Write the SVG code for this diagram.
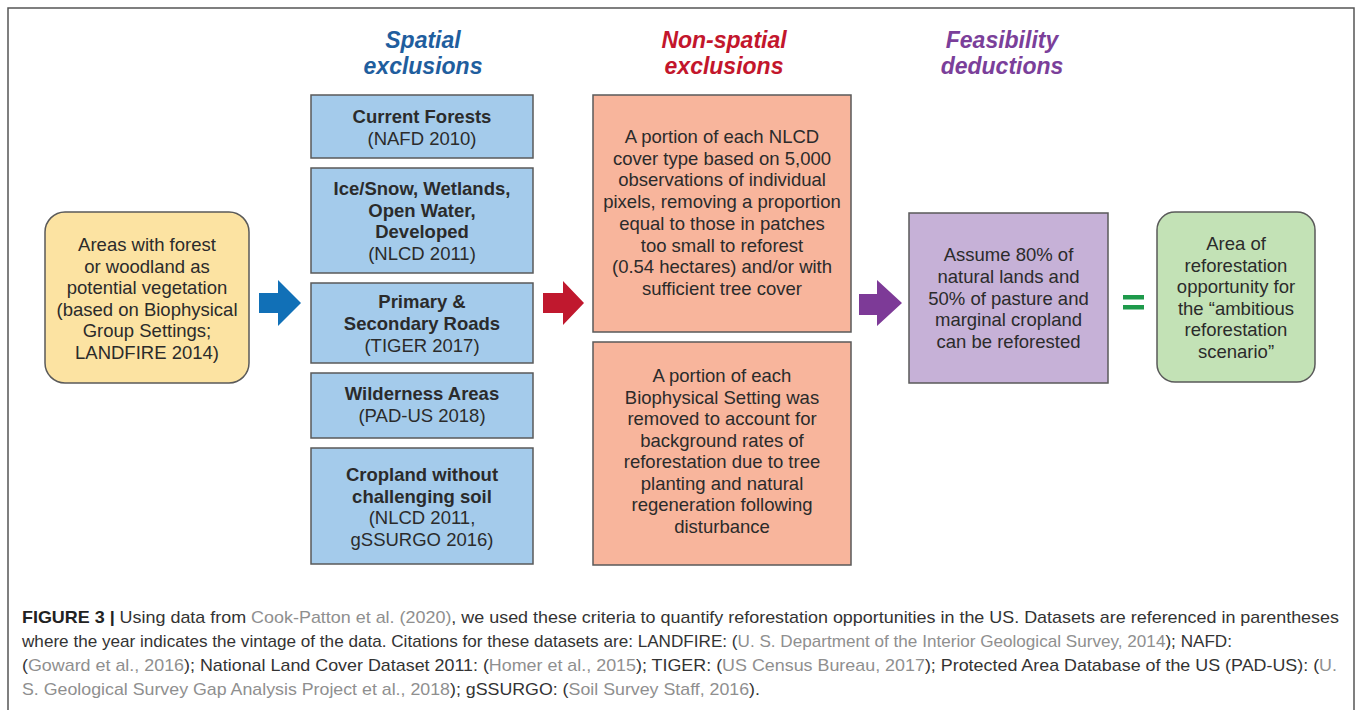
<svg xmlns="http://www.w3.org/2000/svg" width="1357" height="710" viewBox="0 0 1357 710">
<style>
.hd{font-family:"Liberation Sans",Arial,sans-serif;font-size:23px;font-weight:bold;font-style:italic;text-anchor:middle}
.t{font-family:"Liberation Sans",Arial,sans-serif;font-size:18.5px;fill:#2b2b2b;text-anchor:middle}
.b{font-weight:bold}
.box{stroke:#5a5a5a;stroke-width:1.5}
.blue{fill:#a4cbeb}
.org{fill:#f8b59c}
.cap{font-family:"Liberation Sans Narrow","Liberation Sans",Arial,sans-serif;font-size:17px;fill:#333}
.ref{fill:#8f8f8f}
</style>
<rect width="1357" height="710" fill="#fff"/>
<path d="M8,720 V8 H1354 V720" fill="none" stroke="#555" stroke-width="1.5"/>

<g id="headers">
<text class="hd" fill="#1f5e9e" x="423" y="48">Spatial</text>
<text class="hd" fill="#1f5e9e" x="423" y="74">exclusions</text>
<text class="hd" fill="#c3162c" x="724" y="48">Non-spatial</text>
<text class="hd" fill="#c3162c" x="724" y="74">exclusions</text>
<text class="hd" fill="#7b3f9a" x="1002" y="48">Feasibility</text>
<text class="hd" fill="#7b3f9a" x="1002" y="74">deductions</text>
</g>

<g id="start">
<rect class="box" x="45" y="212" width="204" height="171" rx="20" fill="#fce3a2"/>
<text class="t" x="147" y="251">Areas with forest</text>
<text class="t" x="147" y="272.6">or woodland as</text>
<text class="t" x="147" y="294.2">potential vegetation</text>
<text class="t" x="147" y="315.8">(based on Biophysical</text>
<text class="t" x="147" y="337.4">Group Settings;</text>
<text class="t" x="147" y="359">LANDFIRE 2014)</text>
</g>

<g id="current-forests">
<rect class="box blue" x="311" y="95" width="222" height="63"/>
<text class="t b" x="422" y="123">Current Forests</text>
<text class="t" x="422" y="145">(NAFD 2010)</text>
</g>
<g id="ice-snow">
<rect class="box blue" x="311" y="168" width="222" height="105"/>
<text class="t b" x="422" y="195">Ice/Snow, Wetlands,</text>
<text class="t b" x="422" y="216.7">Open Water,</text>
<text class="t b" x="422" y="238.4">Developed</text>
<text class="t" x="422" y="260">(NLCD 2011)</text>
</g>
<g id="roads">
<rect class="box blue" x="311" y="283" width="222" height="80"/>
<text class="t b" x="422" y="308">Primary &amp;</text>
<text class="t b" x="422" y="330">Secondary Roads</text>
<text class="t" x="422" y="351.5">(TIGER 2017)</text>
</g>
<g id="wilderness">
<rect class="box blue" x="311" y="373" width="222" height="65"/>
<text class="t b" x="422" y="400">Wilderness Areas</text>
<text class="t" x="422" y="422">(PAD-US 2018)</text>
</g>
<g id="cropland">
<rect class="box blue" x="311" y="448" width="222" height="116"/>
<text class="t b" x="422" y="481">Cropland without</text>
<text class="t b" x="422" y="502.5">challenging soil</text>
<text class="t" x="422" y="524">(NLCD 2011,</text>
<text class="t" x="422" y="545.5">gSSURGO 2016)</text>
</g>

<g id="nlcd-portion">
<rect class="box org" x="593" y="95" width="258" height="237"/>
<text class="t" x="722" y="143">A portion of each NLCD</text>
<text class="t" x="722" y="164.7">cover type based on 5,000</text>
<text class="t" x="722" y="186.4">observations of individual</text>
<text class="t" x="722" y="208.1">pixels, removing a proportion</text>
<text class="t" x="722" y="229.8">equal to those in patches</text>
<text class="t" x="722" y="251.5">too small to reforest</text>
<text class="t" x="722" y="273.2">(0.54 hectares) and/or with</text>
<text class="t" x="722" y="295">sufficient tree cover</text>
</g>
<g id="bps-portion">
<rect class="box org" x="593" y="342" width="258" height="223"/>
<text class="t" x="722" y="382">A portion of each</text>
<text class="t" x="722" y="403.6">Biophysical Setting was</text>
<text class="t" x="722" y="425.2">removed to account for</text>
<text class="t" x="722" y="446.7">background rates of</text>
<text class="t" x="722" y="468.3">reforestation due to tree</text>
<text class="t" x="722" y="489.9">planting and natural</text>
<text class="t" x="722" y="511.4">regeneration following</text>
<text class="t" x="722" y="533">disturbance</text>
</g>

<g id="feasibility">
<rect class="box" x="909" y="213" width="199" height="170" fill="#c6b1d7"/>
<text class="t" x="1008.5" y="261">Assume 80% of</text>
<text class="t" x="1008.5" y="282.8">natural lands and</text>
<text class="t" x="1008.5" y="304.5">50% of pasture and</text>
<text class="t" x="1008.5" y="326.3">marginal cropland</text>
<text class="t" x="1008.5" y="348">can be reforested</text>
</g>

<g id="result">
<rect class="box" x="1157" y="212" width="158" height="170" rx="18" fill="#c3e2b6"/>
<text class="t" x="1236" y="250">Area of</text>
<text class="t" x="1236" y="271.6">reforestation</text>
<text class="t" x="1236" y="293.2">opportunity for</text>
<text class="t" x="1236" y="314.8">the “ambitious</text>
<text class="t" x="1236" y="336.4">reforestation</text>
<text class="t" x="1236" y="358">scenario”</text>
</g>

<g id="connectors">
<polygon fill="#1170b7" points="259,293 278,293 278,280 301,303 278,326 278,313 259,313"/>
<polygon fill="#c0182e" points="543,293 563,293 563,281 584,303 563,325 563,313 543,313"/>
<polygon fill="#7d3a97" points="859,294 877,294 877,280 902,303 877,326 877,315 859,315"/>
<rect x="1123" y="295" width="21" height="4.5" fill="#1e9a4b"/>
<rect x="1123" y="305" width="21" height="4.5" fill="#1e9a4b"/>
</g>

<g id="caption">
<text class="cap" x="22" y="623" textLength="1317" lengthAdjust="spacingAndGlyphs"><tspan font-weight="bold" fill="#222">FIGURE 3 |</tspan> Using data from <tspan class="ref">Cook-Patton et al. (2020)</tspan>, we used these criteria to quantify reforestation opportunities in the US. Datasets are referenced in parentheses</text>
<text class="cap" x="22" y="647" textLength="1210" lengthAdjust="spacingAndGlyphs">where the year indicates the vintage of the data. Citations for these datasets are: LANDFIRE: (<tspan class="ref">U. S. Department of the Interior Geological Survey, 2014</tspan>); NAFD:</text>
<text class="cap" x="22" y="671" textLength="1315" lengthAdjust="spacingAndGlyphs">(<tspan class="ref">Goward et al., 2016</tspan>); National Land Cover Dataset 2011: (<tspan class="ref">Homer et al., 2015</tspan>); TIGER: (<tspan class="ref">US Census Bureau, 2017</tspan>); Protected Area Database of the US (PAD-US): (<tspan class="ref">U.</tspan></text>
<text class="cap" x="22" y="695" textLength="738" lengthAdjust="spacingAndGlyphs"><tspan class="ref">S. Geological Survey Gap Analysis Project et al., 2018</tspan>); gSSURGO: (<tspan class="ref">Soil Survey Staff, 2016</tspan>).</text>
</g>
</svg>
